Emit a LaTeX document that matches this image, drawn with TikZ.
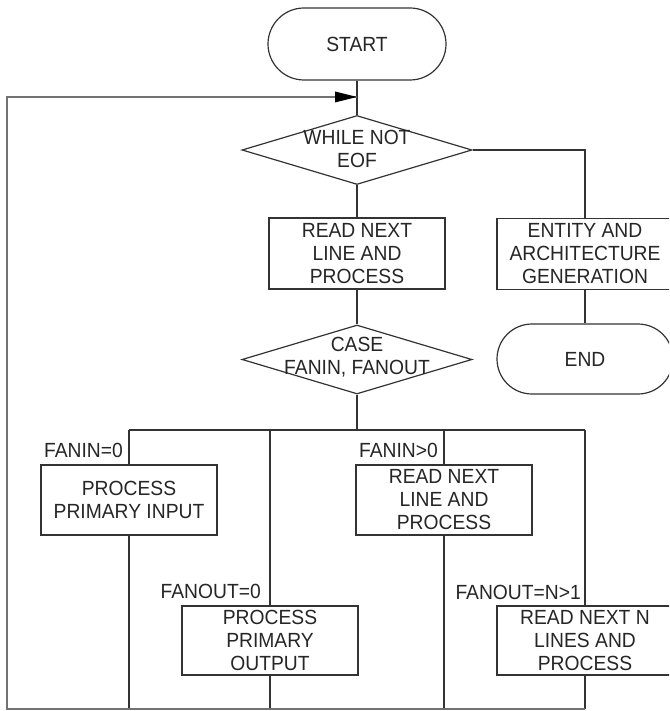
\documentclass[tikz,border=0pt]{standalone}
\usepackage{fontspec}
\setmainfont{Liberation Sans}[FakeStretch=0.94]
\usetikzlibrary{shapes.geometric,shapes.misc,arrows.meta}
\tikzset{
  every node/.style={font=\fontsize{20.5}{23}\selectfont, text=black!85},
  conn/.style={draw=black!80, line width=1.2pt},
  loopline/.style={draw=black!55, line width=2pt},
  procbox/.style={rectangle, draw=black!80, line width=1.2pt, minimum width=176pt, inner sep=0pt, align=center},
  termbox/.style={rounded rectangle, draw=black!80, line width=1.2pt, minimum width=178pt, minimum height=72pt, inner sep=0pt},
  decision/.style={diamond, draw=black!80, line width=1.2pt, minimum width=230pt, minimum height=69pt, inner sep=0pt},
  dtext/.style={align=center, inner sep=0pt},
  condlabel/.style={anchor=east, inner sep=0pt}
}
\begin{document}
\begin{tikzpicture}[x=1pt,y=-1pt]
\clip (0,0) rectangle (669,711);
\fill[white] (0,0) rectangle (669,711);
% nodes
\node[termbox] (start) at (357,44) {START};
\node[decision] (while) at (357,150) {};
\node[dtext] (whiletxt) at (357,149) {WHILE NOT\\EOF};
\node[procbox, minimum height=71pt] (read1) at (357,253.5) {READ NEXT\\LINE AND\\PROCESS};
\node[decision] (case) at (357,359.5) {};
\node[dtext] (casetxt) at (357,357) {CASE\\FANIN, FANOUT};
\node[procbox, minimum height=71pt] (entity) at (585,254) {ENTITY AND\\ARCHITECTURE\\GENERATION};
\node[termbox, minimum width=176pt, minimum height=70pt] (endt) at (585,359) {END};
\node[procbox, minimum height=70pt] (pin) at (129,500) {PROCESS\\PRIMARY INPUT};
\node[procbox, minimum height=70pt] (read2) at (444,500) {READ NEXT\\LINE AND\\PROCESS};
\node[procbox, minimum height=69pt] (pout) at (270,640.5) {PROCESS\\PRIMARY\\OUTPUT};
\node[procbox, minimum height=69pt] (readn) at (585,640.5) {READ NEXT N\\LINES AND\\PROCESS};
% condition labels
\node[condlabel] (l1) at (123,450) {FANIN=0};
\node[condlabel] (l2) at (438,450) {FANIN>0};
\node[condlabel] (l3) at (261,591) {FANOUT=0};
\node[condlabel] (l4) at (581,592) {FANOUT=N>1};
% coordinates
\coordinate (busL) at (129,430);
\coordinate (busM) at (357,430);
\coordinate (bus2) at (270,430);
\coordinate (bus3) at (444,430);
\coordinate (busR) at (585,430);
\coordinate (botL) at (7,709);
\coordinate (botR) at (585,709);
\coordinate (topL) at (7,97);
\coordinate (loopin) at (357,97);
% connectors
\draw[conn] (start.south) -- (while.north);
\draw[conn] (while.south) -- (read1.north);
\draw[conn] (read1.south) -- (case.north);
\draw[conn] (while.east) -| (entity.north);
\draw[conn] (entity.south) -- (endt.north);
\draw[conn] (case.south) -- (busM);
\draw[conn] (busL) -- (busR);
\draw[conn] (busL) -- (pin.north);
\draw[conn] (bus2) -- (pout.north);
\draw[conn] (bus3) -- (read2.north);
\draw[conn] (busR) -- (readn.north);
\draw[conn] (pin.south) -- (pin.south |- botL);
\draw[conn] (pout.south) -- (pout.south |- botL);
\draw[conn] (read2.south) -- (read2.south |- botL);
\draw[conn] (readn.south) -- (botR);
\draw[loopline] (botR) -- (botL) -- (topL) -- (loopin);
\draw[conn, draw=none, fill=black] ([xshift=-22pt,yshift=-5.5pt]loopin) -- (loopin) -- ([xshift=-22pt,yshift=5.5pt]loopin) -- cycle;
\end{tikzpicture}
\end{document}
